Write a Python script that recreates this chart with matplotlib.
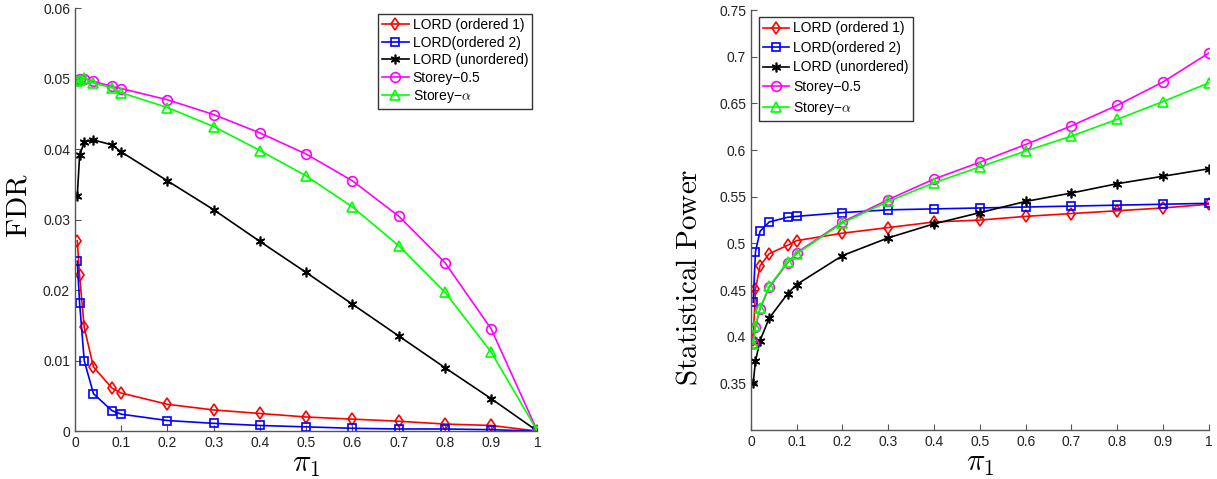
import matplotlib
matplotlib.use("Agg")
import matplotlib.pyplot as plt

plt.rcParams["font.family"] = ["Liberation Sans", "DejaVu Sans"]
plt.rcParams["mathtext.fontset"] = "cm"

# x values (pi_1)
pi1 = [0.005, 0.01, 0.02, 0.04, 0.08, 0.1, 0.2, 0.3, 0.4, 0.5, 0.6, 0.7, 0.8, 0.9, 1.0]

# FDR (left panel)
fdr_ord1 = [0.0270, 0.0221, 0.0147, 0.0091, 0.0061, 0.0054, 0.0038, 0.0030, 0.0025,
            0.0020, 0.0017, 0.0014, 0.0010, 0.0008, 0.0]
fdr_ord2 = [0.0241, 0.0182, 0.0100, 0.0053, 0.0029, 0.0024, 0.0015, 0.0011, 0.0008,
            0.0006, 0.0004, 0.0003, 0.0003, 0.0002, 0.0]
fdr_unord = [0.0333, 0.0391, 0.0410, 0.0413, 0.0406, 0.0396, 0.0355, 0.0314, 0.0269,
             0.0225, 0.0180, 0.0135, 0.0090, 0.0046, 0.0]
fdr_st05 = [0.0498, 0.0499, 0.0500, 0.0496, 0.0489, 0.0486, 0.0470, 0.0449, 0.0423,
            0.0393, 0.0355, 0.0305, 0.0239, 0.0145, 0.0]
fdr_sta = [0.0496, 0.0498, 0.0501, 0.0494, 0.0487, 0.0480, 0.0459, 0.0432, 0.0398,
           0.0362, 0.0318, 0.0263, 0.0197, 0.0112, 0.0]

# Statistical power (right panel)
pow_ord1 = [0.397, 0.451, 0.476, 0.489, 0.498, 0.503, 0.511, 0.517, 0.523,
            0.525, 0.529, 0.532, 0.535, 0.538, 0.542]
pow_ord2 = [0.437, 0.491, 0.513, 0.523, 0.528, 0.529, 0.533, 0.536, 0.537,
            0.538, 0.539, 0.540, 0.541, 0.542, 0.543]
pow_unord = [0.350, 0.374, 0.396, 0.420, 0.446, 0.456, 0.487, 0.506, 0.521,
             0.533, 0.545, 0.554, 0.564, 0.572, 0.580]
pow_st05 = [0.393, 0.410, 0.430, 0.453, 0.479, 0.490, 0.523, 0.547, 0.569,
            0.587, 0.606, 0.626, 0.648, 0.673, 0.704]
pow_sta = [0.392, 0.412, 0.431, 0.454, 0.480, 0.489, 0.522, 0.545, 0.565,
           0.582, 0.599, 0.615, 0.633, 0.652, 0.672]

labels = ["LORD (ordered 1)", "LORD(ordered 2)", "LORD (unordered)",
          "Storey\u22120.5", "Storey\u2212$\\alpha$"]
colors = ["#ff0000", "#0000ff", "#000000", "#ff00ff", "#00ff00"]
markers = ["d", "s", (6, 2, 0), "o", "^"]
msizes = [6.5, 5.5, 7, 7, 7.5]

fig = plt.figure(figsize=(12.17, 4.79), dpi=100)
ax1 = fig.add_axes([0.0616, 0.100, 0.380, 0.883])
ax2 = fig.add_axes([0.617, 0.102, 0.3763, 0.877])


def draw(ax, series):
    for y, lab, c, m, ms in zip(series, labels, colors, markers, msizes):
        ax.plot(pi1, y, color=c, marker=m, markersize=ms, markerfacecolor="none",
                markeredgecolor=c, markeredgewidth=1.2, linewidth=1.2, label=lab)
    for side in ["top", "right"]:
        ax.spines[side].set_visible(False)
    for side in ["left", "bottom"]:
        ax.spines[side].set_color("#555555")
        ax.spines[side].set_linewidth(1.0)
    ax.tick_params(direction="in", length=4, width=0.8, color="#555555",
                   labelsize=10, labelcolor="#222222")
    ax.set_xlim(0, 1)
    xt = [0, 0.1, 0.2, 0.3, 0.4, 0.5, 0.6, 0.7, 0.8, 0.9, 1]
    ax.set_xticks(xt, ["0", "0.1", "0.2", "0.3", "0.4", "0.5", "0.6", "0.7", "0.8", "0.9", "1"])
    ax.set_xlabel(r"$\pi_1$", fontsize=22, labelpad=-1)


draw(ax1, [fdr_ord1, fdr_ord2, fdr_unord, fdr_st05, fdr_sta])
ax1.set_ylim(0, 0.06)
ax1.set_yticks([0, 0.01, 0.02, 0.03, 0.04, 0.05, 0.06],
               ["0", "0.01", "0.02", "0.03", "0.04", "0.05", "0.06"])
ax1.set_ylabel(r"$\mathrm{FDR}$", fontsize=21)
ax1.yaxis.set_label_coords(-0.091, 0.532)
leg1 = ax1.legend(loc="upper right", bbox_to_anchor=(0.989, 0.986), fontsize=10,
                  frameon=True, fancybox=False, edgecolor="black", handlelength=1.9,
                  labelspacing=0.25, borderpad=0.3, handletextpad=0.3, borderaxespad=0)
leg1.get_frame().set_linewidth(1.0)

draw(ax2, [pow_ord1, pow_ord2, pow_unord, pow_st05, pow_sta])
ax2.set_ylim(0.3, 0.75)
ax2.set_yticks([0.35, 0.4, 0.45, 0.5, 0.55, 0.6, 0.65, 0.7, 0.75],
               ["0.35", "0.4", "0.45", "0.5", "0.55", "0.6", "0.65", "0.7", "0.75"])
ax2.set_ylabel(r"$\mathrm{Statistical\ Power}$", fontsize=21)
ax2.yaxis.set_label_coords(-0.105, 0.364)
leg2 = ax2.legend(loc="upper left", bbox_to_anchor=(0.017, 0.983), fontsize=10,
                  frameon=True, fancybox=False, edgecolor="black", handlelength=1.9,
                  labelspacing=0.4, borderpad=0.3, handletextpad=0.3, borderaxespad=0)
leg2.get_frame().set_linewidth(1.0)

fig.savefig("out.png", dpi=100)
